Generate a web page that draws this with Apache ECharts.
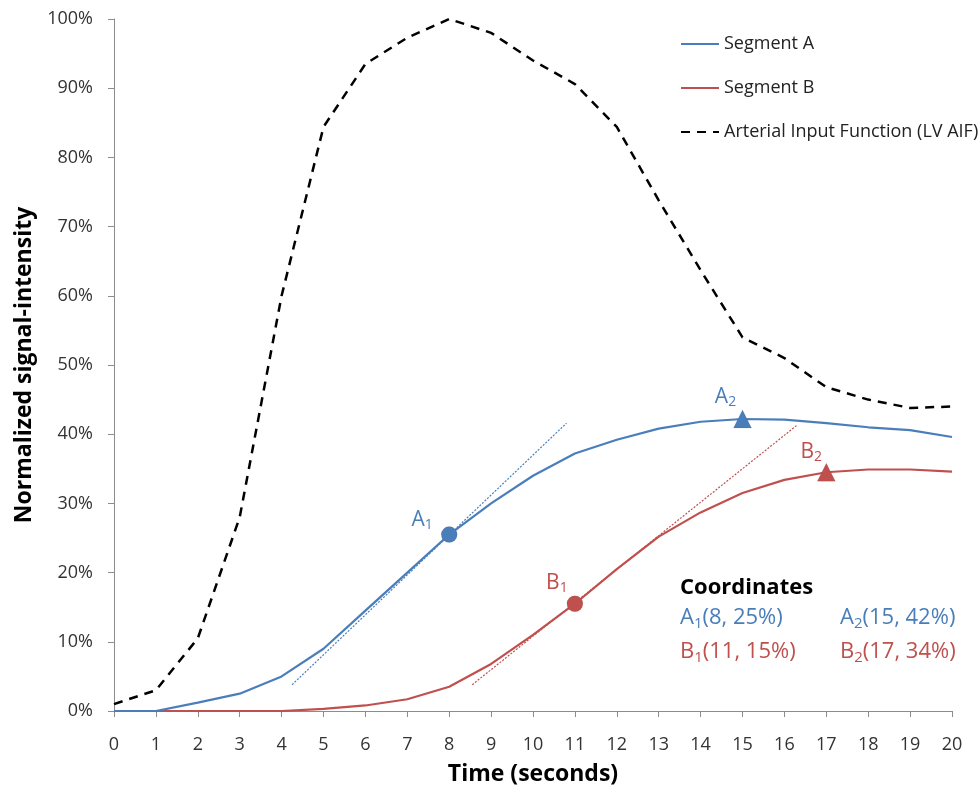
<!DOCTYPE html>
<html><head><meta charset="utf-8">
<script src="https://cdn.jsdelivr.net/npm/echarts@6/dist/echarts.min.js"></script>
<style>html,body{margin:0;padding:0;background:#fff}#c{width:979px;height:790px}</style>
</head><body><div id="c"></div>
<script>
const times = [0,1,2,3,4,5,6,7,8,9,10,11,12,13,14,15,16,17,18,19,20];
const segmentA = [0,0,1.2,2.5,5,9,14.5,20,25.5,30,34,37.2,39.2,40.8,41.8,42.2,42.1,41.6,41,40.6,39.6];
const segmentB = [0,0,0,0,0,0.3,0.8,1.7,3.5,6.8,11,15.5,20.5,25.2,28.7,31.5,33.4,34.5,34.9,34.9,34.6];
const aif = [1,3,10.5,28,60,84.4,93.5,97.3,100,98,94,90.6,84.4,73.8,63.7,54,51,46.8,45,43.8,44];
const tangentA = [[4.25,3.8],[10.8,41.6]];
const tangentB = [[8.55,3.8],[16.3,41.3]];
const pointsA = [{name:'A',sub:'1',x:8,y:25.5,sym:'circle'},{name:'A',sub:'2',x:15,y:42.2,sym:'triangle'}];
const pointsB = [{name:'B',sub:'1',x:11,y:15.5,sym:'circle'},{name:'B',sub:'2',x:17,y:34.5,sym:'triangle'}];
const coordLines = [
  {name:'A',sub:'1',text:'(8, 25%)',col:0,row:0},
  {name:'A',sub:'2',text:'(15, 42%)',col:1,row:0},
  {name:'B',sub:'1',text:'(11, 15%)',col:0,row:1},
  {name:'B',sub:'2',text:'(17, 34%)',col:1,row:1}
];
const yTicks = [0,10,20,30,40,50,60,70,80,90,100];

const BLUE = '#4A7EBB', RED = '#C0504D', FONT = '"Open Sans", "Noto Sans", sans-serif';
const zip = (xs, ys) => xs.map((x,i)=>[x, ys[i]]);
const labelRich = c => ({
  m:{fontSize:21,color:c,fontFamily:FONT,lineHeight:24,verticalAlign:'middle'},
  s:{fontSize:14,color:c,fontFamily:FONT,lineHeight:12,verticalAlign:'bottom'}
});
const gRich = c => ({
  m:{fontSize:22,fill:c,fontFamily:FONT,lineHeight:26,verticalAlign:'middle'},
  s:{fontSize:15,fill:c,fontFamily:FONT,lineHeight:12,verticalAlign:'bottom'}
});
function markerSeries(pts, color, offsets){
  return {
    type:'scatter', z:5, silent:true,
    data: pts.map((p,i)=>({value:[p.x,p.y], symbol:p.sym, symbolSize: p.sym==='circle'?16:18,
      label:{show:true, position:'inside', offset:offsets[i], formatter:'{m|'+p.name+'}{s|'+p.sub+'}', rich:labelRich(color)}})),
    itemStyle:{color:color, opacity:1, borderColor:'rgba(0,0,0,0.15)', borderWidth:0.5}
  };
}

const chart = echarts.init(document.getElementById('c'));
chart.setOption({
  backgroundColor:'#fff',
  animation:false,
  grid:{left:114,right:27,top:19,bottom:79,containLabel:false,outerBoundsMode:'none'},
  legend:{
    data:['Segment A','Segment B','Arterial Input Function (LV AIF)'],
    orient:'vertical', left:675, top:29, itemGap:24, itemWidth:38, itemHeight:14,
    itemStyle:{opacity:0},
    textStyle:{fontSize:18,lineHeight:20,color:'#222',fontFamily:FONT},
  },
  xAxis:{type:'value',min:0,max:20,interval:1,
    name:'Time (seconds)',nameLocation:'middle',nameGap:52,
    nameTextStyle:{fontSize:23,fontWeight:'bold',color:'#000',fontFamily:FONT},
    axisLine:{lineStyle:{color:'#8c8c8c'}},
    axisTick:{show:true,length:6,lineStyle:{color:'#8c8c8c'}},
    axisLabel:{fontSize:18,color:'#333',margin:25,fontFamily:FONT},
    splitLine:{show:false}},
  yAxis:{type:'value',min:0,max:100,interval:10,
    name:'Normalized signal-intensity',nameLocation:'middle',nameGap:78,
    nameTextStyle:{fontSize:23,fontWeight:'bold',color:'#000',fontFamily:FONT},
    axisLine:{show:true,lineStyle:{color:'#8c8c8c'}},
    axisTick:{show:true,length:6,lineStyle:{color:'#8c8c8c'}},
    axisLabel:{fontSize:18,color:'#333',margin:21,fontFamily:FONT,
      formatter:v=> yTicks.includes(v) ? v+'%' : ''},
    splitLine:{show:false}},
  series:[
    {name:'Arterial Input Function (LV AIF)',type:'line',data:zip(times,aif),symbol:'none',
      lineStyle:{color:'#000',width:2.5,type:[9,7]},itemStyle:{color:'#000'},z:2},
    {name:'Segment B',type:'line',data:zip(times,segmentB),symbol:'none',
      lineStyle:{color:RED,width:2.2},itemStyle:{color:RED},z:3},
    {name:'Segment A',type:'line',data:zip(times,segmentA),symbol:'none',
      lineStyle:{color:BLUE,width:2.2},itemStyle:{color:BLUE},z:3},
    {name:'tanA',type:'line',data:tangentA,symbol:'none',lineStyle:{color:BLUE,width:1.2,type:[2,1.5]},z:4,silent:true},
    {name:'tanB',type:'line',data:tangentB,symbol:'none',lineStyle:{color:RED,width:1.2,type:[2,1.5]},z:4,silent:true},
    markerSeries(pointsA, BLUE, [[-27,-15],[-17,-22]]),
    markerSeries(pointsB, RED, [[-18,-21],[-15,-20]])
  ],
  graphic:[
    {type:'text',left:680,top:577,style:{text:'Coordinates',font:'bold 22px '+FONT,fill:'#000'}}
  ].concat(coordLines.map(c=>({
    type:'text', left: c.col ? 840 : 680, top: c.row ? 641 : 607,
    style:{text:'{m|'+c.name+'}{s|'+c.sub+'}{m|'+c.text+'}', rich:gRich(c.name==='A'?BLUE:RED)}
  })))
});
</script></body></html>
